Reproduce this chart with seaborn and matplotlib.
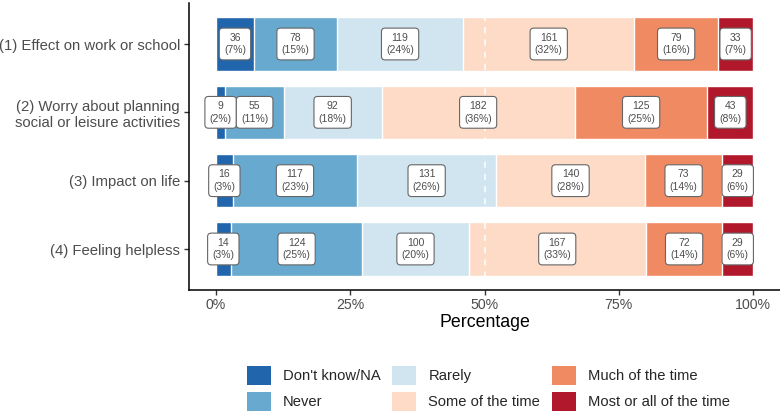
import matplotlib
matplotlib.use("Agg")
import matplotlib.pyplot as plt
import seaborn as sns
from matplotlib.patches import Patch
from matplotlib.ticker import PercentFormatter

# data
items = ["(1) Effect on work or school",
         "(2) Worry about planning\nsocial or leisure activities",
         "(3) Impact on life",
         "(4) Feeling helpless"]
levels = ["Don't know/NA", "Never", "Rarely", "Some of the time",
          "Much of the time", "Most or all of the time"]
dont_know = [36, 9, 16, 14]
never = [78, 55, 117, 124]
rarely = [119, 92, 131, 100]
some_time = [161, 182, 140, 167]
much_time = [79, 125, 73, 72]
most_time = [33, 43, 29, 29]
colors = ["#2166AC", "#67A9CF", "#D1E5F0", "#FDDBC7", "#EF8A62", "#B2182B"]

counts = [dont_know, never, rarely, some_time, much_time, most_time]
totals = [sum(c[i] for c in counts) for i in range(len(items))]

sns.set_theme(style="white")
plt.rcParams["font.family"] = ["Liberation Sans", "DejaVu Sans"]

fig = plt.figure(figsize=(7.8, 4.16), dpi=100)
ax = fig.add_axes([189 / 780, 126 / 416, 591 / 780, 287 / 416])

# cumulative layers, drawn from the longest one down
cum = []
running = [0] * len(items)
for c in counts:
    running = [r + v for r, v in zip(running, c)]
    cum.append([r / t for r, t in zip(running, totals)])

for k in reversed(range(len(levels))):
    sns.barplot(x=cum[k], y=items, orient="h", color=colors[k],
                width=0.78, edgecolor="white", linewidth=1.0,
                saturation=1, ax=ax)

ax.axvline(0.5, color="white", ls=(0, (4, 4)), lw=1.1, zorder=2)

# count / percentage labels
for k, c in enumerate(counts):
    for i in range(len(items)):
        start = cum[k - 1][i] if k > 0 else 0
        mid = (start + cum[k][i]) / 2
        pct = round(100 * c[i] / totals[i])
        ax.text(mid, i, f"{c[i]}\n({pct}%)", ha="center", va="center",
                fontsize=7.5, color="#4D4D4D", linespacing=1.3, zorder=5,
                bbox=dict(boxstyle="round,pad=0.45,rounding_size=0.35",
                          fc="white", ec="#666666", lw=0.8))

ax.set_xlim(-0.05, 1.05)
ax.set_ylim(3.6, -0.6)
ax.set_xticks([0, 0.25, 0.5, 0.75, 1.0])
ax.xaxis.set_major_formatter(PercentFormatter(xmax=1, decimals=0))
ax.set_xlabel("Percentage", fontsize=12.8, color="black", labelpad=2)
ax.set_ylabel("")

for side in ["top", "right"]:
    ax.spines[side].set_visible(False)
for side in ["left", "bottom"]:
    ax.spines[side].set_color("black")
    ax.spines[side].set_linewidth(1.1)
ax.tick_params(axis="both", which="major", length=3.5, width=1.0,
               color="#333333", labelcolor="#4D4D4D",
               bottom=True, left=True)
ax.tick_params(axis="x", pad=2, labelsize=10.2)
ax.tick_params(axis="y", pad=3, labelsize=10.7)

handles = [Patch(facecolor=col, edgecolor="none", label=lab)
           for col, lab in zip(colors, levels)]
fig.legend(handles=handles, loc="center", bbox_to_anchor=(488.5 / 780, 0.066),
           ncol=3, frameon=False, fontsize=10.6, handlelength=1.63,
           handleheight=1.63, handletextpad=0.82, columnspacing=0.8,
           labelspacing=0.45, borderpad=0.2)

fig.savefig("out.png", dpi=100)
